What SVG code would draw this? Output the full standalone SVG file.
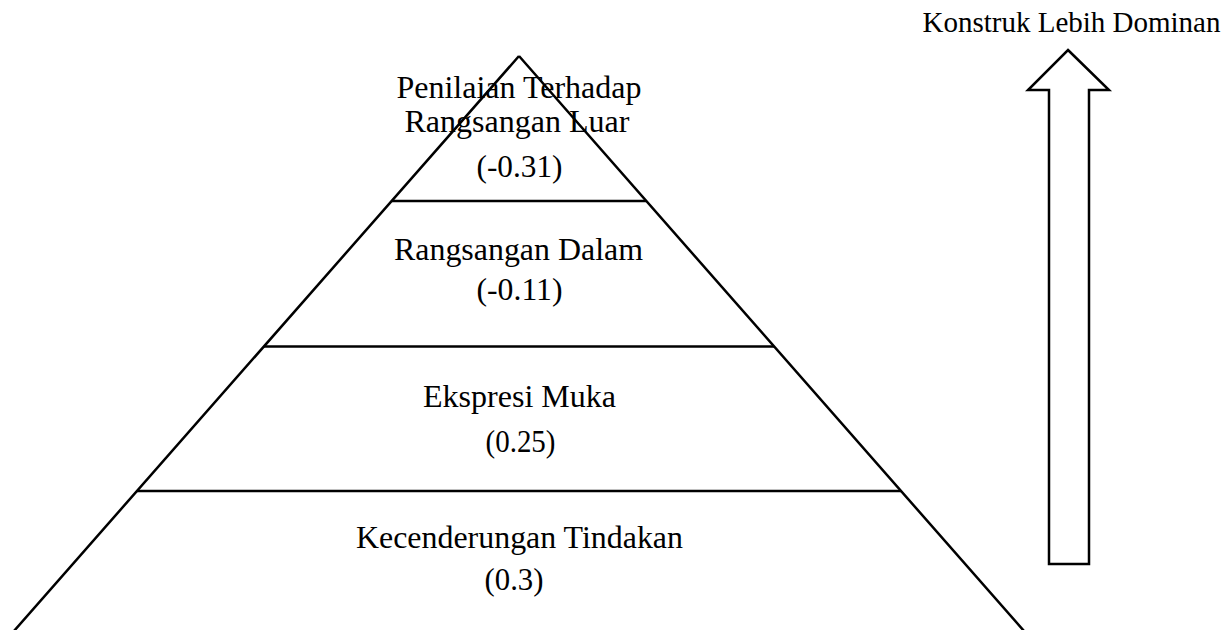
<svg xmlns="http://www.w3.org/2000/svg" width="1228" height="630" viewBox="0 0 1228 630">
  <style>
    .ln { stroke: #000; stroke-width: 2.5; fill: none; }
    .lbl { font-family: "Liberation Serif", "Times New Roman", serif; font-size: 31.5px; fill: #000; text-anchor: middle; }
  </style>
  <rect width="1228" height="630" fill="#fff"/>
  <g id="connectors">
    <path class="ln" d="M 519 56 L 14 631 M 519 56 L 1024 631"/>
    <line class="ln" x1="392" y1="201" x2="646" y2="201"/>
    <line class="ln" x1="264" y1="346.5" x2="774" y2="346.5"/>
    <line class="ln" x1="137" y1="491" x2="901" y2="491"/>
  </g>
  <g id="layer-penilaian">
    <text class="lbl" x="519" y="98" textLength="245" lengthAdjust="spacingAndGlyphs">Penilaian Terhadap</text>
    <text class="lbl" x="517" y="132" textLength="225" lengthAdjust="spacingAndGlyphs">Rangsangan Luar</text>
    <text class="lbl" x="519.5" y="177" textLength="86" lengthAdjust="spacingAndGlyphs">(-0.31)</text>
  </g>
  <g id="layer-rangsangan-dalam">
    <text class="lbl" x="518.5" y="260" textLength="249" lengthAdjust="spacingAndGlyphs">Rangsangan Dalam</text>
    <text class="lbl" x="519.5" y="300" textLength="86" lengthAdjust="spacingAndGlyphs">(-0.11)</text>
  </g>
  <g id="layer-ekspresi">
    <text class="lbl" x="519.5" y="406.5" textLength="193" lengthAdjust="spacingAndGlyphs">Ekspresi Muka</text>
    <text class="lbl" x="520.5" y="451.5" textLength="70" lengthAdjust="spacingAndGlyphs">(0.25)</text>
  </g>
  <g id="layer-kecenderungan">
    <text class="lbl" x="519.5" y="548" textLength="327" lengthAdjust="spacingAndGlyphs">Kecenderungan Tindakan</text>
    <text class="lbl" x="514" y="590" textLength="59" lengthAdjust="spacingAndGlyphs">(0.3)</text>
  </g>
  <g id="arrow-dominan">
    <polygon class="ln" points="1068,50 1109,90 1089,90 1089,564 1049,564 1049,90 1028,90"/>
    <text class="lbl" x="1071.5" y="32" style="font-size:28.5px" textLength="298" lengthAdjust="spacingAndGlyphs">Konstruk Lebih Dominan</text>
  </g>
</svg>
